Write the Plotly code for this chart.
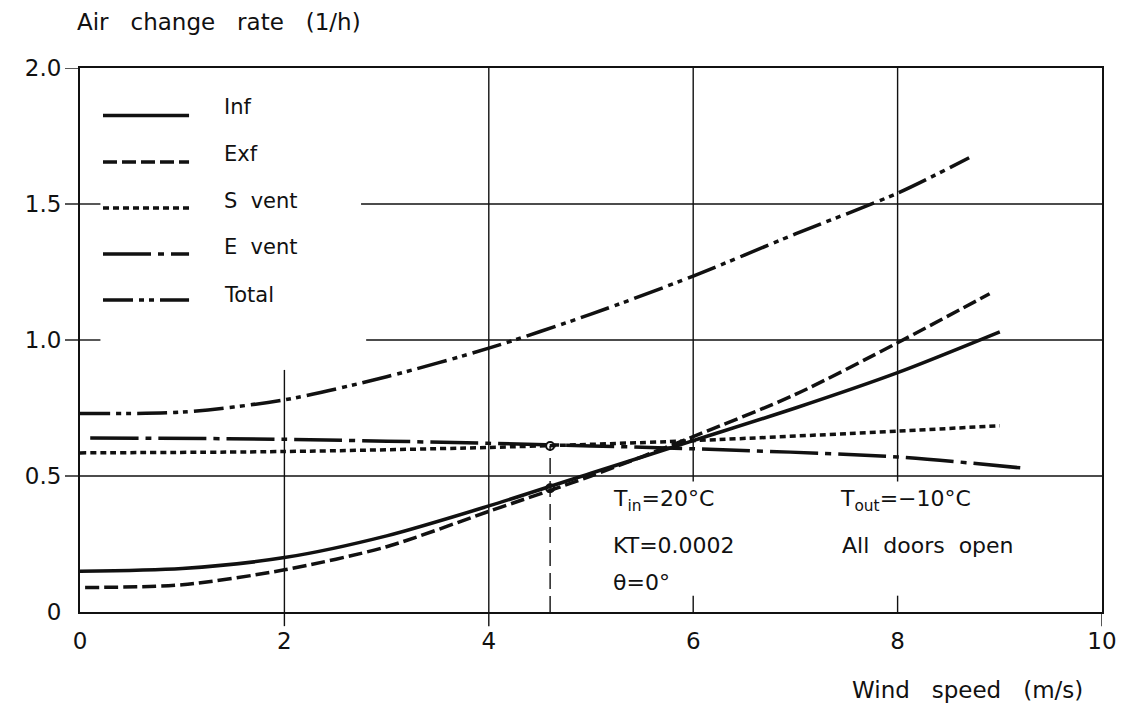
import plotly.graph_objects as go

# ---------------- data ----------------
wind_inf = [0, 1, 2, 3, 4, 5, 6, 7, 8, 9]
inf_rate = [0.15, 0.16, 0.20, 0.28, 0.39, 0.51, 0.63, 0.75, 0.88, 1.03]

wind_exf = [0.05, 1, 2, 3, 4, 5, 6, 7, 8, 8.9]
exf_rate = [0.09, 0.10, 0.155, 0.24, 0.37, 0.50, 0.645, 0.80, 0.99, 1.17]

wind_svent = [0, 2, 4, 6, 8, 9]
svent_rate = [0.585, 0.59, 0.605, 0.63, 0.665, 0.685]

wind_event = [0.1, 2, 4, 6, 8, 9.2]
event_rate = [0.64, 0.635, 0.62, 0.60, 0.57, 0.53]

wind_total = [0, 1, 2, 3, 4, 5, 6, 7, 8, 8.7]
total_rate = [0.73, 0.735, 0.78, 0.865, 0.97, 1.095, 1.235, 1.39, 1.54, 1.67]

marker_x = [4.6, 4.6]
marker_y = [0.61, 0.455]

series_names = ["Inf", "Exf", "S vent", "E vent", "Total"]
x_ticks = [0, 2, 4, 6, 8, 10]
y_ticks = [0, 0.5, 1.0, 1.5, 2.0]
y_ticktext = ["0", "0.5", "1.0", "1.5", "2.0"]

# ---------------- styles ----------------
FONT = "DejaVu Sans"
BLACK = "#111111"
dashes = {
    "Inf": "solid",
    "Exf": "14px,5px",
    "S vent": "6px,4px",
    "E vent": "48px,7px,6px,7px",
    "Total": "30px,6px,5px,5px,5px,6px",
}
LW = 3.5

series = {
    "Inf": (wind_inf, inf_rate),
    "Exf": (wind_exf, exf_rate),
    "S vent": (wind_svent, svent_rate),
    "E vent": (wind_event, event_rate),
    "Total": (wind_total, total_rate),
}

fig = go.Figure()
for name in series_names:
    xs, ys = series[name]
    fig.add_trace(go.Scatter(
        x=xs, y=ys, mode="lines", name=name, showlegend=False,
        line=dict(color=BLACK, width=LW, dash=dashes[name], shape="spline", smoothing=0.8),
    ))

fig.add_trace(go.Scatter(
    x=marker_x, y=marker_y, mode="markers", showlegend=False,
    marker=dict(symbol="circle-open", size=8, color=BLACK, line=dict(width=2, color=BLACK)),
))

shapes = []
GRID = dict(color=BLACK, width=1.4)

# partial grid lines (as in the drawing)
grid_h = [(1.5, 0, 0.2), (1.5, 2.75, 10), (1.0, 0, 0.2), (1.0, 2.8, 10), (0.5, 0, 10)]
grid_v = [(2, 0, 0.89), (4, 0, 2), (6, 0.48, 2), (8, 0.48, 2), (6, 0, 0.06), (8, 0, 0.06)]
for yv, x0, x1 in grid_h:
    shapes.append(dict(type="line", xref="x", yref="y", x0=x0, x1=x1, y0=yv, y1=yv, line=GRID, layer="below"))
for xv, y0, y1 in grid_v:
    shapes.append(dict(type="line", xref="x", yref="y", x0=xv, x1=xv, y0=y0, y1=y1, line=GRID, layer="below"))

# outside tick marks
for yv in [0.5, 1.0, 1.5, 2.0]:
    shapes.append(dict(type="line", xref="paper", yref="y", x0=-0.0147, x1=0, y0=yv, y1=yv, line=GRID))
for xv in [2, 4, 10]:
    shapes.append(dict(type="line", xref="x", yref="paper", x0=xv, x1=xv, y0=-0.026, y1=0, line=GRID))

# dashed drop line at the marked wind speed
shapes.append(dict(type="line", xref="x", yref="y", x0=marker_x[0], x1=marker_x[0], y0=0, y1=marker_y[0],
                   line=dict(color=BLACK, width=1.4, dash="16px,7px"), layer="below"))

# custom legend (long line samples)
leg_line_y = [1.825, 1.654, 1.485, 1.316, 1.147]
leg_text_y = [1.857, 1.684, 1.511, 1.342, 1.165]
annotations = []
for name, ly, ty in zip(series_names, leg_line_y, leg_text_y):
    shapes.append(dict(type="line", xref="x", yref="y", x0=0.225, x1=1.067, y0=ly, y1=ly,
                       line=dict(color=BLACK, width=LW, dash=dashes[name])))
    annotations.append(dict(x=1.39, y=ty, xref="x", yref="y", text=name.replace(" ", "\u00a0\u00a0"),
                            showarrow=False, xanchor="left", yanchor="middle",
                            font=dict(family=FONT, size=21, color=BLACK)))

# condition notes
notes = [
    (5.2, 0.41, "T<sub>in</sub>=20°C"),
    (5.2, 0.246, "KT=0.0002"),
    (5.2, 0.11, "θ=0°"),
    (7.42, 0.41, "T<sub>out</sub>=\u221210°C"),
    (7.44, 0.246, "All\u00a0\u00a0doors\u00a0\u00a0open"),
]
for nx, ny, txt in notes:
    annotations.append(dict(x=nx, y=ny, xref="x", yref="y", text=txt, showarrow=False,
                            xanchor="left", yanchor="middle",
                            font=dict(family=FONT, size=22, color=BLACK)))

# axis titles
annotations.append(dict(x=-0.005, y=1.0846, xref="paper", yref="paper",
                        text="Air\u00a0\u00a0\u00a0change\u00a0\u00a0\u00a0rate\u00a0\u00a0\u00a0(1/h)", showarrow=False,
                        xanchor="left", yanchor="middle", font=dict(family=FONT, size=23, color=BLACK)))
annotations.append(dict(x=0.9834, y=-0.143, xref="paper", yref="paper",
                        text="Wind\u00a0\u00a0\u00a0speed\u00a0\u00a0\u00a0(m/s)", showarrow=False,
                        xanchor="right", yanchor="middle", font=dict(family=FONT, size=23, color=BLACK)))

fig.update_layout(
    width=1130, height=716,
    margin=dict(l=72, r=36, t=60, b=112),
    paper_bgcolor="white", plot_bgcolor="white",
    font=dict(family=FONT, size=22, color=BLACK),
    shapes=shapes, annotations=annotations,
    xaxis=dict(range=[0, 10], tickvals=x_ticks, ticktext=[str(v) for v in x_ticks],
               showgrid=False, zeroline=False, ticks="", showline=True, mirror=True,
               linecolor=BLACK, linewidth=2, ticklabelstandoff=7,
               tickfont=dict(family=FONT, size=23, color=BLACK)),
    yaxis=dict(range=[0, 2], tickvals=y_ticks, ticktext=y_ticktext,
               showgrid=False, zeroline=False, ticks="", showline=True, mirror=True,
               linecolor=BLACK, linewidth=2, ticklabelstandoff=12,
               tickfont=dict(family=FONT, size=23, color=BLACK)),
)

fig.write_html("out.html")
